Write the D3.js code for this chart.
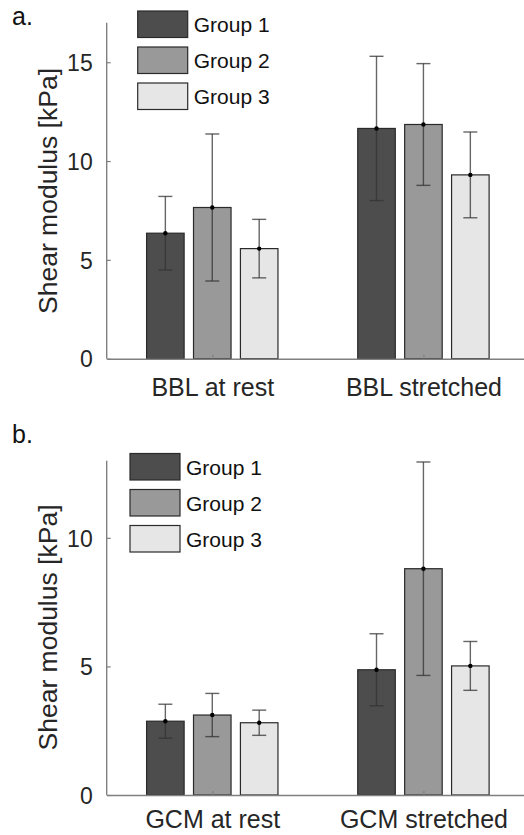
<!DOCTYPE html>
<html>
<head>
<meta charset="utf-8">
<script src="https://cdn.jsdelivr.net/npm/d3@7"></script>
<style>
  html, body { margin: 0; padding: 0; background: #ffffff; }
  svg { display: block; font-family: "Liberation Sans", Arial, Helvetica, sans-serif; }
</style>
</head>
<body>
<svg id="chart" width="524" height="835"></svg>
<script>
// ---- data ----
const groups = ["Group 1", "Group 2", "Group 3"];
const groupColors = ["#4d4d4d", "#999999", "#e6e6e6"];

const categoriesA = ["BBL at rest", "BBL stretched"];
const meansA = [[6.35, 7.65, 5.57], [11.65, 11.85, 9.3]];
const errsA  = [[1.86, 3.72, 1.48], [3.65, 3.08, 2.17]];
const ticksA = [0, 5, 10, 15];

const categoriesB = ["GCM at rest", "GCM stretched"];
const meansB = [[2.87, 3.11, 2.81], [4.87, 8.80, 5.02]];
const errsB  = [[0.66, 0.84, 0.49], [1.40, 4.15, 0.95]];
const ticksB = [0, 5, 10];

const svg = d3.select("#chart");
const textColor = "#262626";
const axisColor = "#808080";

function panel(opts) {
  const { label, labelPos, categories, means, errs, ticks, yMax, yRange, legendPos, ylabelPos, xPad } = opts;
  const x = d3.scaleLinear().domain([0.5, 2.5]).range([106.7, 529]);
  const y = d3.scaleLinear().domain([0, yMax]).range(yRange);
  const g = svg.append("g");
  const offsets = [-0.2222, 0, 0.2222];
  const bw = 0.1778;

  // bars
  categories.forEach((c, ci) => {
    groups.forEach((gr, gi) => {
      const cx = ci + 1 + offsets[gi];
      g.append("rect")
        .attr("x", x(cx - bw / 2))
        .attr("width", x(cx + bw / 2) - x(cx - bw / 2))
        .attr("y", y(means[ci][gi]))
        .attr("height", y(0) - y(means[ci][gi]))
        .attr("fill", groupColors[gi])
        .attr("stroke", "#2a2a2a")
        .attr("stroke-width", 1.2);
    });
  });

  // axes
  const yAxis = d3.axisLeft(y).tickValues(ticks).tickSizeInner(-4).tickSizeOuter(0).tickPadding(14);
  const ya = g.append("g").attr("transform", `translate(${x(0.5)},0)`).call(yAxis);
  ya.select(".domain").attr("stroke", axisColor).attr("stroke-width", 1.4);
  ya.selectAll(".tick line").attr("stroke", axisColor).attr("stroke-width", 1.2);
  ya.selectAll(".tick text").attr("fill", textColor).attr("font-size", 23).attr("dy", "0.36em");

  const xAxis = d3.axisBottom(x).tickValues([1, 2]).tickFormat(d => categories[d - 1])
    .tickSizeInner(-4).tickSizeOuter(0).tickPadding(xPad);
  const xa = g.append("g").attr("transform", `translate(0,${y(0)})`).call(xAxis);
  xa.select(".domain").attr("stroke", axisColor).attr("stroke-width", 1.4);
  xa.selectAll(".tick line").attr("stroke", axisColor).attr("stroke-width", 1.2);
  xa.selectAll(".tick text").attr("fill", textColor).attr("font-size", 25).attr("dy", "0.71em");
  // y-axis extends to top
  ya.select(".domain").attr("d", `M0,${y(0)}V${y(yMax)}`);

  // error bars
  categories.forEach((c, ci) => {
    groups.forEach((gr, gi) => {
      const cx = x(ci + 1 + offsets[gi]);
      const m = means[ci][gi], e = errs[ci][gi];
      const eg = g.append("g").attr("stroke", "#333333").attr("stroke-opacity", 0.75).attr("stroke-width", 1.4);
      eg.append("line").attr("x1", cx).attr("x2", cx).attr("y1", y(m - e)).attr("y2", y(m + e));
      eg.append("line").attr("x1", cx - 7).attr("x2", cx + 7).attr("y1", y(m - e)).attr("y2", y(m - e));
      eg.append("line").attr("x1", cx - 7).attr("x2", cx + 7).attr("y1", y(m + e)).attr("y2", y(m + e));
      g.append("circle").attr("cx", cx).attr("cy", y(m)).attr("r", 2.2).attr("fill", "#000");
    });
  });

  // y label
  g.append("text")
    .attr("transform", `translate(${ylabelPos[0]},${ylabelPos[1]}) rotate(-90)`)
    .attr("text-anchor", "middle")
    .attr("dominant-baseline", "central")
    .attr("fill", textColor)
    .attr("font-size", 26.5)
    .text("Shear modulus [kPa]");

  // panel label
  g.append("text").attr("x", labelPos[0]).attr("y", labelPos[1])
    .attr("fill", "#111").attr("font-size", 25).text(label);

  // legend
  const lg = g.append("g").attr("transform", `translate(${legendPos[0]},${legendPos[1]})`);
  groups.forEach((gr, gi) => {
    lg.append("rect").attr("x", 0).attr("y", gi * 36).attr("width", 50).attr("height", 26.5)
      .attr("fill", groupColors[gi]).attr("stroke", "#2a2a2a").attr("stroke-width", 1.2);
    lg.append("text").attr("x", 56).attr("y", gi * 36 + 13.5).attr("dominant-baseline", "central")
      .attr("fill", "#111").attr("font-size", 21).text(gr);
  });
}

panel({
  label: "a.", labelPos: [12, 25],
  categories: categoriesA, means: meansA, errs: errsA, ticks: ticksA,
  yMax: 17, yRange: [358.7, 22.7], legendPos: [137.7, 11], ylabelPos: [48, 191], xPad: 20
});

panel({
  label: "b.", labelPos: [12, 443],
  categories: categoriesB, means: meansB, errs: errsB, ticks: ticksB,
  yMax: 13, yRange: [795, 460.7], legendPos: [130, 453.5], ylabelPos: [48, 627.5], xPad: 15
});
</script>
</body>
</html>
